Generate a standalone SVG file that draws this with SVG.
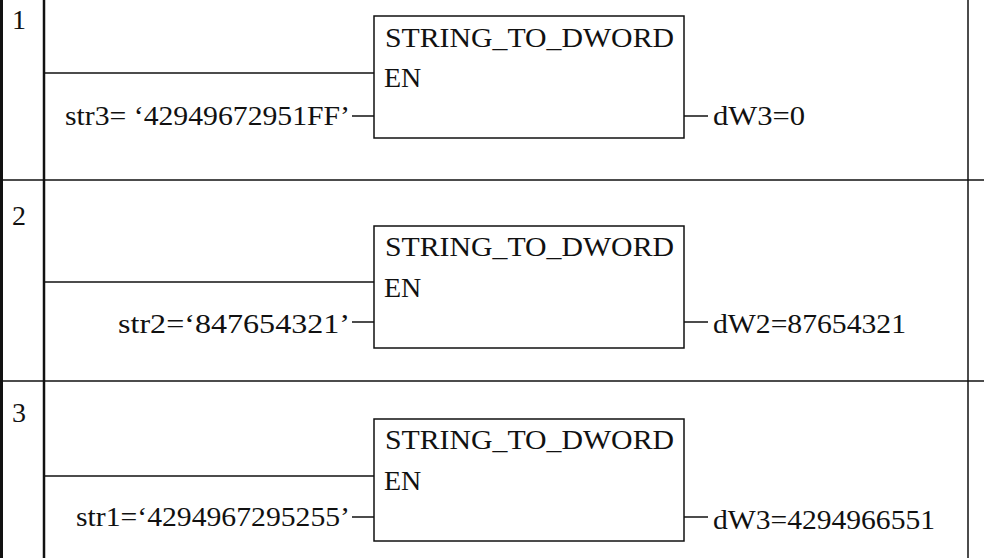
<svg xmlns="http://www.w3.org/2000/svg" width="984" height="558" viewBox="0 0 984 558">
<style>
text{font-family:"Liberation Serif","Times New Roman",serif;font-size:28px;fill:#111}
.l{stroke:#111;stroke-width:1.5;fill:none}
.b{stroke:#111;stroke-width:1.5;fill:#fff}
</style>
<rect width="984" height="558" fill="#fff"/>
<g id="frame">
<line class="l" x1="1.5" y1="0" x2="1.5" y2="558" style="stroke-width:3"/>
<line class="l" x1="44" y1="0" x2="44" y2="558" style="stroke-width:2.5"/>
<line class="l" x1="968" y1="0" x2="968" y2="558"/>
<line class="l" x1="0" y1="180" x2="984" y2="180"/>
<line class="l" x1="0" y1="381" x2="984" y2="381"/>
<text x="12" y="29">1</text><text x="12" y="225">2</text><text x="12" y="422">3</text>
</g>
<g id="connectors">
<line class="l" x1="44" y1="73" x2="374" y2="73"/>
<line class="l" x1="352" y1="116" x2="374" y2="116"/>
<line class="l" x1="684" y1="116" x2="708" y2="116"/>
<line class="l" x1="44" y1="282" x2="374" y2="282"/>
<line class="l" x1="352" y1="322" x2="374" y2="322"/>
<line class="l" x1="684" y1="322" x2="708" y2="322"/>
<line class="l" x1="44" y1="476" x2="374" y2="476"/>
<line class="l" x1="352" y1="517" x2="374" y2="517"/>
<line class="l" x1="684" y1="517" x2="708" y2="517"/>
</g>
<g id="node1">
<rect class="b" x="374" y="16" width="310" height="122"/>
<text x="385" y="47" textLength="289" lengthAdjust="spacingAndGlyphs">STRING_TO_DWORD</text><text x="384" y="87">EN</text>
<text x="65" y="125" textLength="285" lengthAdjust="spacingAndGlyphs">str3= ‘42949672951FF’</text>
<text x="713" y="125" textLength="92" lengthAdjust="spacingAndGlyphs">dW3=0</text>
</g>
<g id="node2">
<rect class="b" x="374" y="226" width="310" height="122"/>
<text x="385" y="256" textLength="289" lengthAdjust="spacingAndGlyphs">STRING_TO_DWORD</text><text x="384" y="297">EN</text>
<text x="118" y="333" textLength="232" lengthAdjust="spacingAndGlyphs">str2=‘847654321’</text>
<text x="713" y="333" textLength="193" lengthAdjust="spacingAndGlyphs">dW2=87654321</text>
</g>
<g id="node3">
<rect class="b" x="374" y="419" width="310" height="122"/>
<text x="385" y="449" textLength="289" lengthAdjust="spacingAndGlyphs">STRING_TO_DWORD</text><text x="384" y="490">EN</text>
<text x="76" y="526" textLength="274" lengthAdjust="spacingAndGlyphs">str1=‘4294967295255’</text>
<text x="713" y="529" textLength="222" lengthAdjust="spacingAndGlyphs">dW3=4294966551</text>
</g>
</svg>
